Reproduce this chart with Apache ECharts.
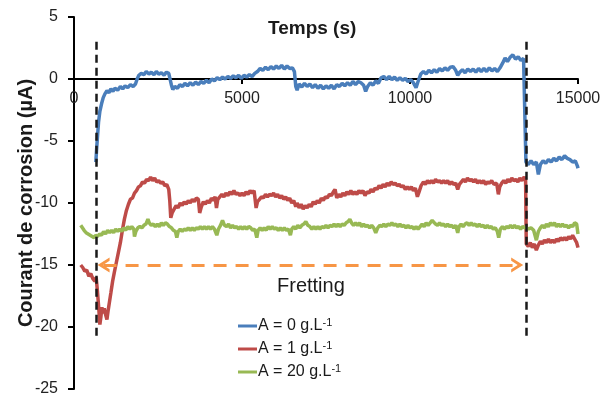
<!DOCTYPE html>
<html>
<head>
<meta charset="utf-8">
<script src="https://cdn.jsdelivr.net/npm/echarts@6/dist/echarts.min.js"></script>
<style>html,body{margin:0;padding:0;background:#fff;}#c{width:604px;height:396px;}</style>
</head>
<body>
<div id="c"></div>
<script>
// ---- data ----
const xTicks = [0, 5000, 10000, 15000];
const yTicks = [-25, -20, -15, -10, -5, 0, 5];
const seriesNames = ['A = 0 g.L', 'A = 1 g.L', 'A = 20 g.L'];
const fretLinesX = [650, 13450];
const fretLinesY = [3, -21];
const arrowY = -15;
const arrowX = [880, 13190];

const blueData = [[650,-6.7],[670,-5.8],[700,-4.6],[730,-3.5],[770,-2.6],[820,-2.0],[870,-1.5],[920,-1.2],[980,-0.95],[1040,-1.1],[1100,-0.8],[1160,-1.0],[1220,-0.75],[1300,-0.9],[1380,-0.6],[1450,-0.8],[1520,-0.55],[1600,-0.7],[1680,-0.45],[1760,-0.6],[1830,-0.4],[1880,0.0],[1930,0.3],[2000,0.45],[2080,0.35],[2150,0.6],[2230,0.4],[2300,0.55],[2380,0.35],[2450,0.6],[2520,0.4],[2600,0.5],[2680,0.3],[2750,0.55],[2820,0.45],[2870,0.5],[2900,-0.5],[2940,-0.85],[3000,-0.6],[3080,-0.75],[3150,-0.45],[3230,-0.6],[3300,-0.35],[3380,-0.55],[3460,-0.3],[3540,-0.5],[3620,-0.25],[3700,-0.45],[3780,-0.2],[3860,-0.35],[3940,-0.1],[4020,-0.3],[4100,0.0],[4180,-0.15],[4260,0.1],[4340,-0.05],[4420,0.15],[4500,0.0],[4580,0.2],[4660,0.05],[4740,0.25],[4820,0.1],[4900,0.3],[4980,0.05],[5060,0.3],[5140,0.15],[5220,0.35],[5300,0.2],[5380,0.45],[5460,0.6],[5540,0.85],[5620,0.7],[5700,0.95],[5780,0.75],[5860,1.0],[5940,0.8],[6020,1.05],[6100,0.85],[6180,1.1],[6260,0.8],[6340,1.05],[6420,0.85],[6500,0.9],[6560,0.6],[6600,-0.6],[6640,-0.9],[6700,-0.4],[6780,-0.65],[6860,-0.35],[6940,-0.6],[7020,-0.4],[7100,-0.7],[7180,-0.45],[7260,-0.75],[7340,-0.5],[7420,-0.8],[7500,-0.55],[7580,-0.75],[7660,-0.5],[7740,-0.8],[7820,-0.45],[7900,-0.6],[7980,-0.35],[8060,-0.55],[8140,-0.3],[8220,-0.5],[8300,-0.2],[8380,-0.45],[8460,-0.2],[8540,-0.3],[8620,-0.5],[8680,-1.0],[8740,-0.6],[8820,-0.3],[8900,-0.5],[8980,-0.15],[9060,-0.35],[9140,0.1],[9220,0.2],[9300,-0.05],[9380,0.2],[9460,-0.05],[9540,0.15],[9620,-0.1],[9700,0.1],[9780,-0.1],[9860,0.05],[9940,-0.2],[10020,-0.05],[10100,-0.3],[10180,-0.7],[10240,-0.2],[10320,0.4],[10400,0.6],[10480,0.4],[10560,0.7],[10640,0.5],[10720,0.75],[10800,0.55],[10880,0.85],[10960,0.65],[11040,0.9],[11120,0.7],[11200,0.95],[11280,1.0],[11360,0.7],[11420,0.3],[11480,0.55],[11560,0.75],[11640,0.5],[11720,0.8],[11800,0.6],[11880,0.8],[11960,0.55],[12040,0.85],[12120,0.6],[12200,0.85],[12280,0.6],[12360,0.9],[12440,0.65],[12520,0.85],[12600,0.6],[12680,0.9],[12760,1.3],[12830,1.7],[12900,1.4],[12980,1.75],[13060,1.95],[13140,1.6],[13220,1.8],[13300,1.5],[13380,1.65],[13430,1.5],[13450,-6.7],[13520,-6.9],[13600,-6.6],[13680,-6.9],[13760,-6.7],[13820,-7.7],[13880,-6.9],[13960,-6.6],[14040,-6.8],[14120,-6.5],[14200,-6.7],[14280,-6.4],[14360,-6.6],[14440,-6.3],[14520,-6.5],[14600,-6.2],[14680,-6.4],[14760,-6.5],[14840,-6.7],[14920,-6.6],[14980,-7.0],[15000,-7.2]];

const redData = [[200,-15.0],[260,-15.2],[320,-15.5],[380,-15.4],[440,-15.9],[500,-15.7],[560,-16.1],[620,-16.3],[660,-16.0],[700,-17.2],[740,-18.6],[770,-19.8],[800,-19.2],[830,-18.4],[860,-18.9],[900,-18.5],[940,-19.0],[980,-19.4],[1020,-18.6],[1060,-17.9],[1100,-17.2],[1150,-16.3],[1200,-15.6],[1260,-14.8],[1320,-14.0],[1380,-13.2],[1440,-12.2],[1500,-11.3],[1560,-10.6],[1620,-10.1],[1680,-9.7],[1740,-9.6],[1800,-9.2],[1860,-9.0],[1920,-8.7],[1980,-8.6],[2040,-8.3],[2100,-8.4],[2160,-8.1],[2220,-8.2],[2280,-7.9],[2340,-8.2],[2400,-8.0],[2460,-8.3],[2520,-8.2],[2580,-8.4],[2640,-8.3],[2700,-8.6],[2760,-8.5],[2820,-8.9],[2850,-9.8],[2880,-11.2],[2920,-10.8],[2980,-10.5],[3040,-10.2],[3100,-10.4],[3160,-10.0],[3220,-10.2],[3280,-9.9],[3340,-10.1],[3400,-9.8],[3460,-10.0],[3520,-9.7],[3580,-9.9],[3640,-9.6],[3700,-9.7],[3740,-10.8],[3790,-10.3],[3850,-9.9],[3910,-10.1],[3970,-9.8],[4030,-10.0],[4090,-9.6],[4150,-9.8],[4200,-9.5],[4240,-10.4],[4280,-9.7],[4340,-9.5],[4400,-9.3],[4460,-9.5],[4520,-9.2],[4580,-9.4],[4640,-9.1],[4700,-9.3],[4760,-9.0],[4820,-9.3],[4880,-9.2],[4940,-9.4],[5000,-9.2],[5060,-9.4],[5120,-9.1],[5180,-9.3],[5240,-9.0],[5300,-9.2],[5360,-9.0],[5420,-10.4],[5460,-9.9],[5520,-9.7],[5580,-9.5],[5640,-9.6],[5700,-9.3],[5760,-9.5],[5820,-9.3],[5880,-9.4],[5940,-9.2],[6000,-9.5],[6060,-9.3],[6120,-9.6],[6180,-9.4],[6240,-9.7],[6300,-9.5],[6360,-9.8],[6420,-9.6],[6480,-10.0],[6540,-9.8],[6600,-10.3],[6640,-10.0],[6700,-10.4],[6760,-10.1],[6820,-10.5],[6880,-10.2],[6940,-10.4],[7000,-10.1],[7060,-10.3],[7120,-9.9],[7180,-10.1],[7240,-9.8],[7300,-10.0],[7360,-9.6],[7420,-9.8],[7480,-9.5],[7540,-9.6],[7600,-9.3],[7660,-9.4],[7720,-9.1],[7770,-8.9],[7820,-9.6],[7880,-9.3],[7940,-9.5],[8000,-9.2],[8060,-9.4],[8120,-9.1],[8180,-9.3],[8240,-9.0],[8300,-9.3],[8360,-9.1],[8420,-9.3],[8480,-9.0],[8540,-9.2],[8600,-9.0],[8660,-9.4],[8720,-9.1],[8780,-9.2],[8840,-8.9],[8900,-9.1],[8960,-8.8],[9020,-8.9],[9080,-8.6],[9140,-8.8],[9200,-8.5],[9260,-8.7],[9320,-8.4],[9380,-8.6],[9440,-8.3],[9500,-8.5],[9560,-8.4],[9620,-8.6],[9680,-8.5],[9740,-8.7],[9800,-8.6],[9860,-8.9],[9920,-8.7],[9980,-8.9],[10040,-8.7],[10100,-9.0],[10160,-8.8],[10220,-9.5],[10270,-9.1],[10330,-8.6],[10400,-8.3],[10460,-8.5],[10520,-8.2],[10580,-8.4],[10640,-8.2],[10700,-8.4],[10760,-8.1],[10820,-8.3],[10880,-8.2],[10940,-8.4],[11000,-8.2],[11060,-8.4],[11120,-8.2],[11180,-8.5],[11240,-8.3],[11300,-8.5],[11360,-8.4],[11420,-8.9],[11470,-8.5],[11530,-8.3],[11590,-8.1],[11650,-8.3],[11710,-8.0],[11770,-8.2],[11830,-8.1],[11890,-8.3],[11950,-8.1],[12010,-8.4],[12070,-8.2],[12130,-8.4],[12190,-8.2],[12250,-8.5],[12310,-8.3],[12370,-8.4],[12430,-8.2],[12500,-8.5],[12580,-8.4],[12630,-9.3],[12670,-8.7],[12730,-8.4],[12790,-8.2],[12850,-8.4],[12910,-8.1],[12970,-8.3],[13030,-8.0],[13090,-8.2],[13150,-8.1],[13210,-8.3],[13270,-8.0],[13330,-8.2],[13400,-7.9],[13440,-8.1],[13460,-13.3],[13520,-13.5],[13580,-13.2],[13640,-13.6],[13700,-13.3],[13760,-13.8],[13820,-13.4],[13880,-13.1],[13940,-13.3],[14000,-13.0],[14060,-13.2],[14120,-12.9],[14180,-13.2],[14240,-13.0],[14300,-13.2],[14360,-12.9],[14420,-13.1],[14480,-12.8],[14540,-13.0],[14600,-12.8],[14660,-13.0],[14720,-12.7],[14780,-12.9],[14840,-12.6],[14900,-12.9],[14960,-13.2],[15000,-13.6]];

const greenData = [[200,-11.8],[250,-12.0],[300,-12.2],[360,-12.4],[420,-12.5],[480,-12.6],[540,-12.7],[600,-12.8],[640,-12.6],[700,-12.7],[760,-12.5],[820,-12.6],[880,-12.3],[940,-12.5],[1000,-12.2],[1060,-12.4],[1120,-12.2],[1180,-12.4],[1240,-12.1],[1300,-12.3],[1360,-12.1],[1420,-12.3],[1480,-12.0],[1540,-12.2],[1600,-11.9],[1660,-12.1],[1720,-11.9],[1780,-12.1],[1800,-12.7],[1840,-12.3],[1900,-12.0],[1960,-11.9],[2020,-12.0],[2080,-11.8],[2140,-11.7],[2200,-11.3],[2240,-11.6],[2300,-11.8],[2360,-11.7],[2420,-11.9],[2480,-11.7],[2540,-11.9],[2600,-11.6],[2660,-11.8],[2720,-11.6],[2780,-11.7],[2840,-11.9],[2900,-12.0],[2960,-12.2],[3020,-12.3],[3060,-12.8],[3100,-12.3],[3160,-12.1],[3220,-12.3],[3280,-12.1],[3340,-12.2],[3400,-12.0],[3460,-12.2],[3520,-12.0],[3580,-12.2],[3640,-12.0],[3700,-12.1],[3760,-11.9],[3820,-12.1],[3880,-11.9],[3940,-12.1],[4000,-11.9],[4060,-12.1],[4120,-11.9],[4180,-12.1],[4250,-12.6],[4300,-12.1],[4360,-11.8],[4420,-11.4],[4480,-11.8],[4540,-11.9],[4600,-11.7],[4660,-12.0],[4720,-11.8],[4780,-12.0],[4840,-11.9],[4900,-12.1],[4960,-11.9],[5020,-12.1],[5080,-11.9],[5140,-12.1],[5200,-11.9],[5260,-12.0],[5320,-12.2],[5380,-12.1],[5440,-12.8],[5480,-12.2],[5540,-12.0],[5600,-12.2],[5660,-12.0],[5720,-12.2],[5780,-11.9],[5840,-12.1],[5900,-11.9],[5960,-12.1],[6020,-12.0],[6080,-12.2],[6140,-12.0],[6200,-12.2],[6260,-12.0],[6320,-12.2],[6380,-12.1],[6440,-12.6],[6480,-12.1],[6540,-11.9],[6600,-12.1],[6660,-11.8],[6720,-12.0],[6780,-11.8],[6840,-11.7],[6900,-11.5],[6960,-11.8],[7020,-11.9],[7080,-12.1],[7140,-11.9],[7200,-12.1],[7260,-11.9],[7320,-12.1],[7380,-11.9],[7440,-12.0],[7500,-11.8],[7560,-12.0],[7620,-11.8],[7680,-11.9],[7740,-11.7],[7800,-11.9],[7860,-11.7],[7920,-11.9],[7980,-11.7],[8040,-11.8],[8100,-11.6],[8160,-11.5],[8210,-11.3],[8260,-11.6],[8320,-11.8],[8380,-11.6],[8440,-11.8],[8500,-11.6],[8560,-11.9],[8620,-11.7],[8680,-11.9],[8740,-11.8],[8800,-12.0],[8860,-11.8],[8920,-12.0],[8980,-12.4],[9040,-12.0],[9100,-11.8],[9160,-11.9],[9220,-11.7],[9280,-11.9],[9340,-11.7],[9400,-11.8],[9460,-11.6],[9520,-11.8],[9580,-11.7],[9640,-11.9],[9700,-11.7],[9760,-11.9],[9820,-11.8],[9880,-12.0],[9940,-11.8],[10000,-12.0],[10060,-11.9],[10120,-12.1],[10180,-11.9],[10240,-12.1],[10300,-11.9],[10360,-11.7],[10420,-11.9],[10480,-11.6],[10540,-11.8],[10600,-11.6],[10660,-11.4],[10700,-11.3],[10760,-11.7],[10820,-11.8],[10880,-11.6],[10940,-11.8],[11000,-11.7],[11060,-11.9],[11120,-11.7],[11180,-11.9],[11240,-11.8],[11300,-12.0],[11360,-11.8],[11420,-12.4],[11460,-11.9],[11520,-11.7],[11580,-11.9],[11640,-11.7],[11700,-11.6],[11760,-11.8],[11820,-11.6],[11880,-11.8],[11940,-11.7],[12000,-11.9],[12060,-11.7],[12120,-11.9],[12180,-11.8],[12240,-12.0],[12300,-11.8],[12360,-12.0],[12420,-11.9],[12480,-12.1],[12540,-12.0],[12600,-12.3],[12640,-12.8],[12690,-12.1],[12750,-11.9],[12810,-12.1],[12870,-11.9],[12930,-12.0],[12990,-11.8],[13050,-12.0],[13110,-11.8],[13170,-12.0],[13230,-11.9],[13290,-12.1],[13350,-11.9],[13410,-12.0],[13470,-12.0],[13530,-12.1],[13600,-12.0],[13680,-12.2],[13760,-13.0],[13820,-12.3],[13880,-12.0],[13940,-11.8],[14000,-12.0],[14060,-11.7],[14120,-11.9],[14180,-11.6],[14240,-11.8],[14300,-11.6],[14360,-11.9],[14420,-11.7],[14480,-11.9],[14540,-11.7],[14600,-11.9],[14660,-11.8],[14720,-12.0],[14780,-11.8],[14840,-11.9],[14900,-11.6],[14960,-11.7],[14990,-12.3],[15000,-12.5]];

const colors = ['#4A7EBB', '#BE4B48', '#98B954'];
const FONT = '"Liberation Sans", Arial, sans-serif';

const chart = echarts.init(document.getElementById('c'), null, {renderer: 'canvas'});

function lineSeries(name, data, color) {
  return {
    name: name, type: 'line', data: data, showSymbol: false, symbol: 'none',
    lineStyle: {color: color, width: 3.5}, itemStyle: {color: color},
    animation: false, silent: true
  };
}

const chevron = 'path://M0,12 L8,0 L16,12 L12.5,12 L8,5.5 L3.5,12 Z';

const option = {
  backgroundColor: '#fff',
  animation: false,
  textStyle: {fontFamily: FONT},
  title: {
    text: 'Temps (s)', left: 268, top: 19, padding: 0,
    textStyle: {fontFamily: FONT, fontSize: 19, fontWeight: 'bold', color: '#1a1a1a'}
  },
  grid: {left: 74, right: 26, top: 17, bottom: 7, containLabel: false, outerBoundsMode: 'none'},
  xAxis: {
    type: 'value', min: xTicks[0], max: xTicks[xTicks.length - 1], interval: 5000,
    position: 'bottom', offset: 0,
    axisLine: {onZero: false, lineStyle: {color: '#000', width: 2}},
    axisTick: {show: true, inside: false, length: 5, lineStyle: {color: '#000', width: 2}},
    axisLabel: {margin: 12, fontSize: 16, color: '#222', fontFamily: FONT, showMinLabel: true, showMaxLabel: true,
      formatter: function (v) { return String(v); }},
    splitLine: {show: false}
  },
  yAxis: {
    type: 'value', min: yTicks[0], max: yTicks[yTicks.length - 1], interval: 5,
    name: 'Courant de corrosion (µA)', nameLocation: 'middle', nameGap: 38, nameRotate: 90,
    nameMoveOverlap: false,
    nameTextStyle: {fontFamily: FONT, fontSize: 20, fontWeight: 'bold', color: '#1a1a1a'},
    axisLine: {onZero: false, lineStyle: {color: '#000', width: 2}},
    axisTick: {show: true, inside: false, length: 6, lineStyle: {color: '#000', width: 2}},
    axisLabel: {margin: 16, fontSize: 16, color: '#222', fontFamily: FONT,
      formatter: function (v) { return String(v); }},
    splitLine: {show: false}
  },
  legend: {
    show: true, orient: 'vertical', left: 238, top: 317, padding: 0,
    itemWidth: 19, itemHeight: 3, itemGap: 5, icon: 'rect',
    data: seriesNames,
    formatter: function (n) { return n + '{sup|-1}'; },
    textStyle: {
      fontFamily: FONT, fontSize: 16, color: '#1a1a1a', lineHeight: 18, padding: [0, 0, 0, -4],
      rich: {sup: {fontSize: 11, fontFamily: FONT, color: '#1a1a1a', verticalAlign: 'top', lineHeight: 18, padding: [0, 0, 6, 0]}}
    }
  },
  graphic: [{
    type: 'text', left: 277, top: 276,
    style: {text: 'Fretting', font: '20px ' + FONT, fill: '#1a1a1a'}
  }],
  series: [
    lineSeries(seriesNames[0], blueData, colors[0]),
    lineSeries(seriesNames[1], redData, colors[1]),
    Object.assign(lineSeries(seriesNames[2], greenData, colors[2]), {
      markLine: {
        silent: true, animation: false,
        data: [
          [{coord: [fretLinesX[0], fretLinesY[0]], symbol: 'none', lineStyle: {color: '#1a1a1a', width: 2.5, type: [8, 5]}},
           {coord: [fretLinesX[0], fretLinesY[1]], symbol: 'none'}],
          [{coord: [fretLinesX[1], fretLinesY[0]], symbol: 'none', lineStyle: {color: '#1a1a1a', width: 2.5, type: [8, 5]}},
           {coord: [fretLinesX[1], fretLinesY[1]], symbol: 'none'}],
          [{coord: [arrowX[0], arrowY], symbol: chevron, symbolSize: [15, 12], lineStyle: {color: '#F79646', width: 3, type: [13, 9]}},
           {coord: [arrowX[1], arrowY], symbol: chevron, symbolSize: [15, 12]}]
        ],
        label: {show: false},
        lineStyle: {opacity: 1}
      }
    })
  ]
};
chart.setOption(option);
// place the x axis line on y = 0 (crossing), measured through the y scale
const yZero = chart.convertToPixel({yAxisIndex: 0}, 0);
const yBottom = chart.convertToPixel({yAxisIndex: 0}, yTicks[0]);
chart.setOption({xAxis: {offset: -(yBottom - yZero)}});
</script>
</body>
</html>
